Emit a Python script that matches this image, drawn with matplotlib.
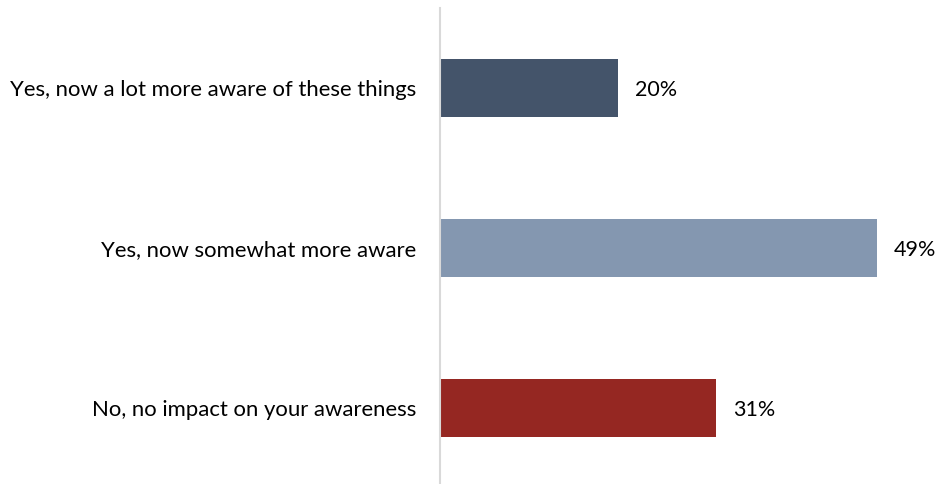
import matplotlib.pyplot as plt

plt.rcParams['font.family'] = ['Lato', 'DejaVu Sans']

categories = ["Yes, now a lot more aware of these things",
              "Yes, now somewhat more aware",
              "No, no impact on your awareness"]
values = [20, 49, 31]
colors = ["#44546A", "#8497B0", "#952722"]

fig = plt.figure(figsize=(9.37, 4.84), dpi=100)
ax = fig.add_axes([440 / 937, 1 - 488 / 484, 490 / 937, 480 / 484])

y = list(range(len(categories)))
ax.barh(y, values, height=0.36, color=colors)
ax.set_ylim(len(categories) - 0.5, -0.5)
ax.set_xlim(0, 55)

for yi, v in zip(y, values):
    ax.text(v + 1.9, yi + 0.01, f"{v}%", va="center", ha="left", fontsize=15.5, color="#000000")

ax.set_yticks(y)
ax.set_yticklabels(categories, fontsize=15.9)
ax.tick_params(axis="y", length=0, pad=17)
ax.set_xticks([])
for side in ["top", "right", "bottom"]:
    ax.spines[side].set_visible(False)
ax.spines["left"].set_color("#D9D9D9")
ax.spines["left"].set_linewidth(1.5)

fig.savefig("out.png", dpi=100)
plt.close(fig)
